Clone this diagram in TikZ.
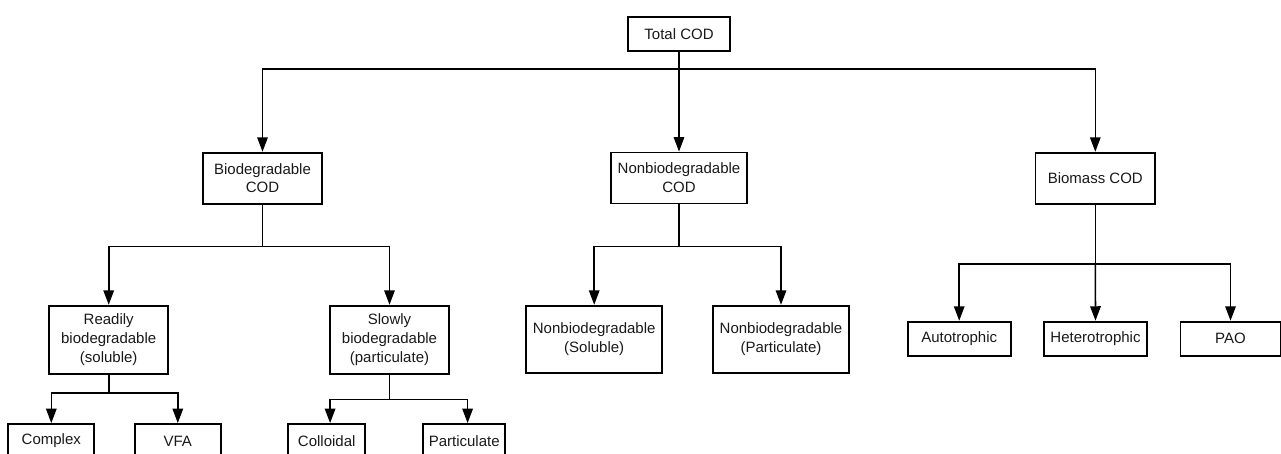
\documentclass[tikz,border=0pt]{standalone}
\usepackage{fontspec}
\setmainfont{Liberation Sans}
\usetikzlibrary{arrows.meta}
\begin{document}
\begin{tikzpicture}[x=1pt,y=-1pt,
  box/.style={draw, line width=1.8pt, align=center, inner sep=0pt,
    font=\fontsize{15}{18.8}\selectfont, text=black!90},
  conn/.style={line width=1.6pt},
  arr/.style={conn, -{Triangle[length=14.5pt,width=10.5pt]}}]
\useasboundingbox (0,0) rectangle (1281,453);
\clip (0,0) rectangle (1281,453);
% level 0
\node[box, minimum width=102pt, minimum height=34pt] (total) at (679,34) {Total COD};
% level 1
\node[box, minimum width=119.5pt, minimum height=51pt] (bio) at (262.5,178.2) {Biodegradable\\COD};
\node[box, minimum width=136pt, minimum height=51pt] (nonbio) at (679,178) {Nonbiodegradable\\COD};
\node[box, minimum width=119.5pt, minimum height=51pt] (biomass) at (1095.3,178.2) {Biomass COD};
% level 2
\node[box, minimum width=118.7pt, minimum height=68pt] (readily) at (108.7,339.7) {Readily\\biodegradable\\(soluble)};
\node[box, minimum width=119pt, minimum height=68pt] (slowly) at (389.5,339.7) {Slowly\\biodegradable\\(particulate)};
\node[box, minimum width=136.3pt, minimum height=67.6pt] (nonsol) at (594.2,339.5) {Nonbiodegradable\\(Soluble)};
\node[box, minimum width=136pt, minimum height=67.6pt] (nonpart) at (781,339.5) {Nonbiodegradable\\(Particulate)};
\node[box, minimum width=103pt, minimum height=34.3pt] (auto) at (959.2,338.8) {Autotrophic};
\node[box, minimum width=103pt, minimum height=34.3pt] (hetero) at (1095.5,338.8) {Heterotrophic};
\node[box, minimum width=100pt, minimum height=34.3pt] (pao) at (1230.5,338.8) {PAO};
% level 3
\node[box, minimum width=86pt, minimum height=34pt] (complex) at (51.3,441) {Complex};
\node[box, minimum width=85.7pt, minimum height=34pt] (vfa) at (177.8,441) {VFA};
\node[box, minimum width=77.3pt, minimum height=34pt] (colloidal) at (326.7,441) {Colloidal};
\node[box, minimum width=81.7pt, minimum height=34pt] (partic) at (464.2,441) {Particulate};
% connectors
\draw[conn] (total.south) -- ++(0,17) coordinate (tj);
\draw[arr] (tj) -| (bio.north);
\draw[arr] (tj) -- (nonbio.north);
\draw[arr] (tj) -| (biomass.north);

\draw[conn] (bio.south) -- ++(0,42) coordinate (bj);
\draw[arr] (bj) -| (readily.north);
\draw[arr] (bj) -| (slowly.north);

\draw[conn] (nonbio.south) -- ++(0,42) coordinate (nj);
\draw[arr] (nj) -| (nonsol.north);
\draw[arr] (nj) -| (nonpart.north);

\draw[conn] (biomass.south) -- ++(0,59.3) coordinate (mj);
\draw[arr] (mj) -| (auto.north);
\draw[arr] (mj) -- (hetero.north);
\draw[arr] (mj) -| (pao.north);

\draw[conn] (readily.south) -- ++(0,18.6) coordinate (rj);
\draw[arr] (rj) -| (complex.north);
\draw[arr] (rj) -| (vfa.north);

\draw[conn] (slowly.south) -- ++(0,25) coordinate (sj);
\draw[arr] (sj) -| ([xshift=3.4pt]colloidal.north);
\draw[arr] (sj) -| ([xshift=3.4pt]partic.north);
\end{tikzpicture}
\end{document}
